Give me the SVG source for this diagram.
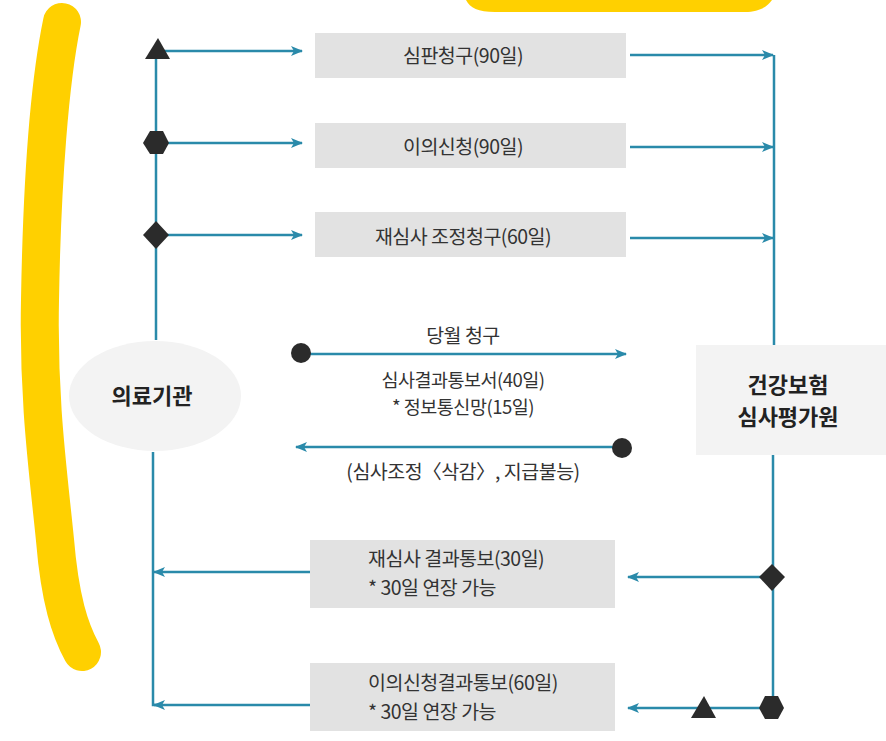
<svg xmlns="http://www.w3.org/2000/svg" width="886" height="741" viewBox="0 0 886 741">
<defs>
<marker id="ah" viewBox="0 0 12 10" refX="11" refY="5" markerWidth="12" markerHeight="10" markerUnits="userSpaceOnUse" orient="auto">
<path d="M0,0 L12,5 L0,10 L3,5 Z" fill="#2a8aaa"/>
</marker>
<style>
.ln{stroke:#2a8aaa;stroke-width:2.5;fill:none}
.ar{stroke:#2a8aaa;stroke-width:2.5;fill:none;marker-end:url(#ah)}
.box{fill:#e2e2e2}
.t{font-family:"Noto Sans CJK KR","Noto Sans",sans-serif;font-size:19.5px;fill:#333;letter-spacing:-0.5px}
.tc{text-anchor:middle}
.s{font-size:18.5px}
.b{font-weight:bold;font-size:22px;fill:#222;letter-spacing:0}
.sh{fill:#2b2b2b}
.hl{stroke:#ffd000;fill:none;stroke-linecap:round;stroke-linejoin:round}
</style>
</defs>
<rect width="886" height="741" fill="#ffffff"/>
<!-- highlighter marks -->
<path class="hl" d="M62,22 C50,80 42,180 40,300 C38,400 48,470 55,540 C60,600 70,630 82,652" stroke-width="38"/>
<path d="M466,0 C470,8 478,12 495,12 L745,12 C760,12 768,6 772,0 Z" fill="#ffd000"/>
<!-- nodes -->
<g id="medical">
<ellipse cx="155" cy="396" rx="86" ry="55" fill="#f3f3f3"/>
<text class="t tc b" x="152" y="404">의료기관</text>
</g>
<g id="hira">
<rect x="696" y="345" width="190" height="110" fill="#f3f3f3"/>
<text class="t tc b" x="788" y="393">건강보험</text>
<text class="t tc b" x="788" y="425">심사평가원</text>
</g>
<g id="appeal">
<rect class="box" x="315" y="33" width="311" height="45"/>
<text class="t tc" x="463" y="63">심판청구(90일)</text>
</g>
<g id="objection">
<rect class="box" x="315" y="123" width="311" height="45"/>
<text class="t tc" x="463" y="154">이의신청(90일)</text>
</g>
<g id="rereview">
<rect class="box" x="315" y="212" width="311" height="45"/>
<text class="t tc" x="463" y="244">재심사 조정청구(60일)</text>
</g>
<g id="rereview-result">
<rect class="box" x="310" y="540" width="305" height="68"/>
<text class="t" x="368" y="566">재심사 결과통보(30일)</text>
<text class="t" x="368" y="595">* 30일 연장 가능</text>
</g>
<g id="objection-result">
<rect class="box" x="310" y="663" width="305" height="68"/>
<text class="t" x="368" y="690">이의신청결과통보(60일)</text>
<text class="t" x="368" y="719">* 30일 연장 가능</text>
</g>
<g id="monthly-claim">
<text class="t tc" x="463" y="343">당월 청구</text>
<text class="t tc s" x="463" y="387">심사결과통보서(40일)</text>
<text class="t tc s" x="463" y="414">* 정보통신망(15일)</text>
<text class="t tc" x="463" y="479">(심사조정〈삭감〉, 지급불능)</text>
</g>
<!-- connectors -->
<g id="connectors">
<path class="ln" d="M156,52 V340"/>
<path class="ln" d="M153,452 V705 H160"/>
<path class="ar" d="M160,51 H302"/>
<path class="ar" d="M160,143 H302"/>
<path class="ar" d="M160,235 H302"/>
<path class="ar" d="M630,55 H773"/>
<path class="ar" d="M630,147 H773"/>
<path class="ar" d="M630,238 H773"/>
<path class="ln" d="M774,55 V345"/>
<path class="ln" d="M773,455 V708"/>
<path class="ar" d="M310,572 H154"/>
<path class="ar" d="M310,705 H154"/>
<path class="ar" d="M772,577 H628"/>
<path class="ar" d="M772,708 H628"/>
<path class="ar" d="M302,354 H626"/>
<path class="ar" d="M622,447 H296"/>
<polygon class="sh" points="158,38 170,59 145,59"/>
<polygon class="sh" points="150,131 163,131 169,143 163,154 150,154 143,143"/>
<polygon class="sh" points="156,221 169,235 156,249 143,235"/>
<polygon class="sh" points="772,564 785,577 772,591 759,577"/>
<polygon class="sh" points="765,696 778,696 784,708 778,719 765,719 759,708"/>
<polygon class="sh" points="704,696 716,718 691,718"/>
<circle class="sh" cx="301" cy="353" r="10"/>
<circle class="sh" cx="622" cy="448" r="10"/>
</g>
</svg>
